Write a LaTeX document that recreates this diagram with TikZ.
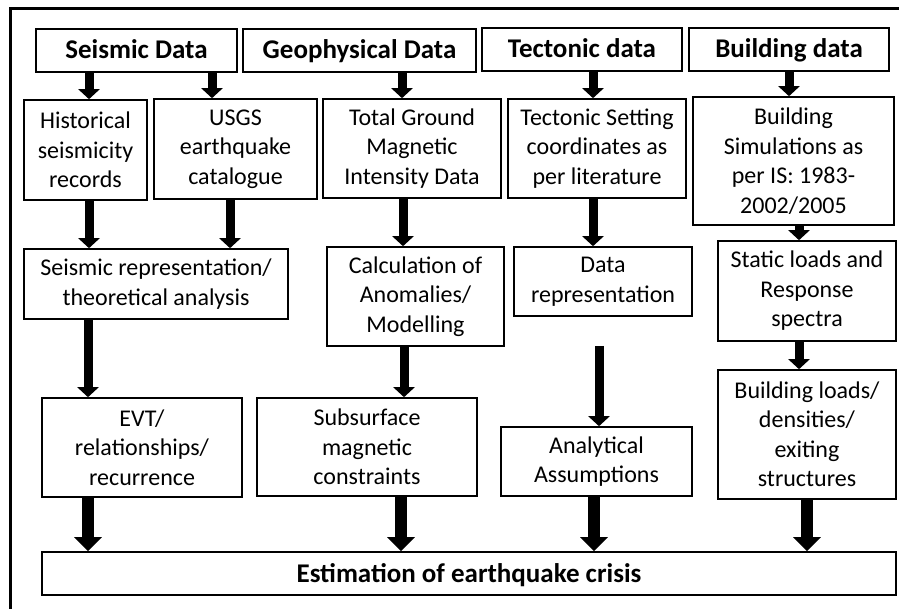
\documentclass[tikz,border=0pt]{standalone}
\usepackage{fontspec}
\setmainfont{Carlito}
\usetikzlibrary{arrows.meta}
\begin{document}
\begin{tikzpicture}[x=1pt, y=-1pt,
        box/.style={draw, line width=1.6pt, align=center, inner sep=0pt, font=\fontsize{24}{29.5}\selectfont},
        head/.style={box, text height=20pt, text depth=3pt, font=\fontsize{27}{32}\selectfont\bfseries},
        flow/.style={line width=9pt, -{Triangle[width=21pt,length=10pt]}},
        bigflow/.style={line width=12pt, -{Triangle[width=27pt,length=14pt]}}]
            \clip (0,0) rectangle (899,609);
            \draw[line width=3pt] (10,9) rectangle (920,630);

            \node[head, minimum width=201pt, minimum height=43pt] (seismic) at (136.5,50.5) {Seismic Data};
            \node[head, minimum width=233pt, minimum height=43pt] (geo) at (359.5,50.5) {Geophysical Data};
            \node[head, minimum width=200pt, minimum height=43pt] (tect) at (582,49.5) {Tectonic data};
            \node[head, minimum width=200pt, minimum height=43pt] (bld) at (789,49.5) {Building data};

            \node[box, minimum width=123pt, minimum height=100pt] (hist) at (85.5,150) {Historical\\seismicity\\records};
            \node[box, minimum width=163pt, minimum height=100pt] (usgs) at (235.5,149) {USGS\\earthquake\\catalogue};
            \node[box, minimum width=178pt, minimum height=99pt] (total) at (412,148.5) {Total Ground\\Magnetic\\Intensity Data};
            \node[box, minimum width=178pt, minimum height=99pt] (tset) at (597,148.5) {Tectonic Setting\\coordinates as\\per literature};
            \node[box, minimum width=201pt, minimum height=128pt] (bsim) at (793.5,161) {Building\\Simulations as\\per IS: 1983-\\2002/2005};

            \node[box, minimum width=264pt, minimum height=70pt] (seisrep) at (156,284) {Seismic representation/\\theoretical analysis};
            \node[box, minimum width=177pt, minimum height=99pt] (calc) at (415.5,296.5) {Calculation of\\Anomalies/\\Modelling};
            \node[box, minimum width=178pt, minimum height=69pt] (datarep) at (603,281.5) {Data\\representation};
            \node[box, minimum width=178pt, minimum height=100pt] (static) at (807,291) {Static loads and\\Response\\spectra};

            \node[box, minimum width=200pt, minimum height=99pt] (evt) at (142,447.5) {EVT/\\relationships/\\recurrence};
            \node[box, minimum width=220pt, minimum height=98pt] (subs) at (367,447) {Subsurface\\magnetic\\constraints};
            \node[box, minimum width=191pt, minimum height=69pt] (anal) at (596.5,461.5) {Analytical\\Assumptions};
            \node[box, minimum width=178pt, minimum height=129pt] (bload) at (807,434.5) {Building loads/\\densities/\\exiting\\structures};

            \node[head, minimum width=854pt, minimum height=43pt] (est) at (469,573.5) {Estimation of earthquake crisis};
            \coordinate (gap) at (599,346);

            \draw[flow] (89,0 |- seismic.south) -- (89,0 |- hist.north);
            \draw[flow] (212,0 |- seismic.south) -- (212,0 |- usgs.north);
            \draw[flow] (402,0 |- geo.south) -- (402,0 |- total.north);
            \draw[flow] (593,0 |- tect.south) -- (593,0 |- tset.north);
            \draw[flow] (789,0 |- bld.south) -- (789,0 |- bsim.north);

            \draw[flow] (89,0 |- hist.south) -- (89,0 |- seisrep.north);
            \draw[flow] (230,0 |- usgs.south) -- (230,0 |- seisrep.north);
            \draw[flow] (403,0 |- total.south) -- (403,0 |- calc.north);
            \draw[flow] (593,0 |- tset.south) -- (593,0 |- datarep.north);
            \draw[flow] (799,0 |- bsim.south) -- (799,0 |- static.north);

            \draw[flow] (88,0 |- seisrep.south) -- (88,0 |- evt.north);
            \draw[flow] (404,0 |- calc.south) -- (404,0 |- subs.north);
            \draw[flow] (gap) -- (gap |- anal.north);
            \draw[flow] (799,0 |- static.south) -- (799,0 |- bload.north);

            \draw[bigflow] (88,0 |- evt.south) -- (88,0 |- est.north);
            \draw[bigflow] (401,0 |- subs.south) -- (401,0 |- est.north);
            \draw[bigflow] (594,0 |- anal.south) -- (594,0 |- est.north);
            \draw[bigflow] (807,0 |- bload.south) -- (807,0 |- est.north);
        \end{tikzpicture}
\end{document}
